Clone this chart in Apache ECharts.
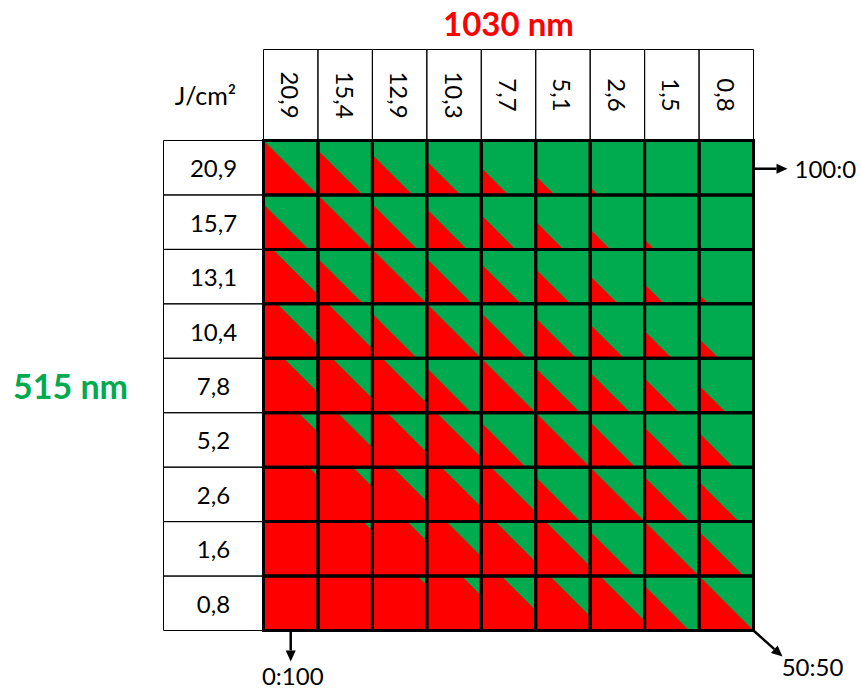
<!DOCTYPE html>
<html><head><meta charset="utf-8">
<script src="https://cdn.jsdelivr.net/npm/echarts@6/dist/echarts.min.js"></script>
<style>html,body{margin:0;padding:0;background:#fff}#c{width:861px;height:690px}</style>
</head><body><div id="c"></div>
<script>
// 1030 nm fluence (columns, J/cm²)
const fluence1030 = ['20,9','15,4','12,9','10,3','7,7','5,1','2,6','1,5','0,8'];
// 515 nm fluence (rows, J/cm²)
const fluence515 = ['20,9','15,7','13,1','10,4','7,8','5,2','2,6','1,6','0,8'];
// green (515 nm) share in % read for each cell: one array per 515 nm row, columns follow fluence1030
const share_20_9 = [50, 59, 63, 69, 75, 82.5, 92.5, 96.5, 100];
const share_15_7 = [58.5, 50, 58.5, 63, 68.5, 74.5, 81.5, 91, 96];
const share_13_1 = [41.5, 58.5, 50, 58.5, 63.5, 68, 74.5, 82, 91.5];
const share_10_4 = [37.5, 41, 59, 50, 58.5, 63, 69, 75, 82];
const share_7_8  = [31.5, 37, 41, 59, 50, 59, 63, 68.5, 75];
const share_5_2  = [18, 32, 36.5, 41, 59, 50, 58.5, 63.5, 68.5];
const share_2_6  = [8.5, 18, 31.5, 36.5, 41, 59, 50, 59, 63.5];
const share_1_6  = [4, 8.5, 18, 32, 37, 41, 59, 50, 59];
const share_0_8  = [0, 3, 8.5, 18, 31.5, 37, 41, 59, 50];
const unitLabel = 'J/cm²';
const title1030 = '1030 nm';
const title515 = '515 nm';
const ratioTop = '100:0', ratioBottom = '0:100', ratioCorner = '50:50';

const shareRows = [share_20_9, share_15_7, share_13_1, share_10_4, share_7_8, share_5_2, share_2_6, share_1_6, share_0_8];
const cellData = [];
shareRows.forEach((row, r) => row.forEach((v, c) => cellData.push([c, r, v])));
const headerData = [];
fluence1030.forEach((_, i) => headerData.push([i, 0, 0]));
fluence515.forEach((_, i) => headerData.push([0, i, 1]));

const GREEN = '#00AA4F', RED = '#FF0000';
const FONT = 'Lato';
const HEADER_H = 91, ROWHEAD_W = 100;

function arrow(x1, y1, x2, y2) {
  const a = Math.atan2(y2 - y1, x2 - x1), L = 11, W = 5;
  const bx = x2 - L * Math.cos(a), by = y2 - L * Math.sin(a);
  const px = -Math.sin(a) * W, py = Math.cos(a) * W;
  return [
    {type: 'line', shape: {x1: x1, y1: y1, x2: bx, y2: by}, style: {stroke: '#000', lineWidth: 2.5}},
    {type: 'polygon', shape: {points: [[x2, y2], [bx + px, by + py], [bx - px, by - py]]}, style: {fill: '#000'}}
  ];
}

const chart = echarts.init(document.getElementById('c'), null, {renderer: 'svg'});
chart.setOption({
  animation: false,
  backgroundColor: '#fff',
  grid: {left: 263.5, top: 140.5, width: 490, height: 490},
  xAxis: {
    type: 'category', position: 'top', data: fluence1030,
    axisLine: {show: false}, axisTick: {show: false}, splitLine: {show: false},
    axisLabel: {rotate: 90, align: 'center', verticalAlign: 'middle', margin: HEADER_H / 2,
      fontSize: 24, fontFamily: FONT, color: '#000', interval: 0},
    name: title1030, nameLocation: 'middle', nameGap: 118,
    nameTextStyle: {color: RED, fontWeight: 'bold', fontSize: 33, fontFamily: FONT, verticalAlign: 'middle', align: 'center'}
  },
  yAxis: {
    type: 'category', inverse: true, data: fluence515,
    axisLine: {show: false}, axisTick: {show: false}, splitLine: {show: false},
    axisLabel: {align: 'center', verticalAlign: 'middle', margin: ROWHEAD_W / 2,
      fontSize: 24, fontFamily: FONT, color: '#000', interval: 0},
    name: title515, nameLocation: 'middle', nameRotate: 0, nameGap: 193,
    nameTextStyle: {color: GREEN, fontWeight: 'bold', fontSize: 34, fontFamily: FONT, verticalAlign: 'middle', align: 'center'}
  },
  series: [
    {
      type: 'custom', name: 'headers', data: headerData, silent: true, clip: false,
      renderItem: function (params, api) {
        const cs = params.coordSys;
        const sz = api.size([1, 1]);
        const ctr = api.coord([api.value(0), api.value(1)]);
        let shape;
        if (api.value(2) === 0) {
          shape = {x: ctr[0] - sz[0] / 2, y: cs.y - HEADER_H, width: sz[0], height: HEADER_H};
        } else {
          shape = {x: cs.x - ROWHEAD_W, y: ctr[1] - sz[1] / 2, width: ROWHEAD_W, height: sz[1]};
        }
        return {type: 'rect', shape: shape, style: {fill: 'none', stroke: '#000', lineWidth: 1}};
      }
    },
    {
      type: 'custom', name: 'cells', data: cellData, silent: true,
      renderItem: function (params, api) {
        const c = api.value(0), r = api.value(1), s = api.value(2);
        const ctr = api.coord([c, r]);
        const sz = api.size([1, 1]);
        const w = sz[0], h = sz[1];
        const x0 = ctr[0] - w / 2, y0 = ctr[1] - h / 2;
        const d = s / 50 - 1;
        const children = [{type: 'rect', shape: {x: x0, y: y0, width: w, height: h}, style: {fill: GREEN}}];
        let pts;
        if (d >= 0) pts = [[x0, y0 + d * h], [x0, y0 + h], [x0 + (1 - d) * w, y0 + h]];
        else pts = [[x0, y0], [x0 - d * w, y0], [x0 + w, y0 + h * (1 + d)], [x0 + w, y0 + h], [x0, y0 + h]];
        if (d < 1) children.push({type: 'polygon', shape: {points: pts}, style: {fill: RED}});
        children.push({type: 'rect', z2: 10, shape: {x: x0, y: y0, width: w, height: h},
          style: {fill: 'none', stroke: '#000', lineWidth: 3}});
        return {type: 'group', children: children};
      }
    },
    {
      type: 'custom', name: 'notes', data: [[0, 0]], silent: true, clip: false,
      renderItem: function (params, api) {
        const cs = params.coordSys;
        const R = cs.x + cs.width, B = cs.y + cs.height;
        const first = api.coord([0, 0]);
        const tstyle = {fontSize: 24, fontFamily: FONT, fill: '#000', verticalAlign: 'middle'};
        const ch = [];
        ch.push.apply(ch, arrow(R + 1, first[1] + 1, R + 34, first[1] + 1));
        ch.push({type: 'text', style: Object.assign({}, tstyle, {text: ratioTop, x: R + 41, y: first[1] + 1, align: 'left'})});
        ch.push.apply(ch, arrow(first[0], B + 1, first[0], B + 31));
        ch.push({type: 'text', style: Object.assign({}, tstyle, {text: ratioBottom, x: first[0] + 2, y: B + 45, align: 'center'})});
        ch.push.apply(ch, arrow(R, B, R + 29, B + 26));
        ch.push({type: 'text', style: Object.assign({}, tstyle, {text: ratioCorner, x: R + 59, y: B + 36, align: 'center'})});
        ch.push({type: 'text', style: {text: unitLabel, x: cs.x - 58, y: cs.y - HEADER_H / 2, align: 'center', verticalAlign: 'middle',
          fontSize: 25, fontFamily: FONT, fill: '#000'}});
        return {type: 'group', children: ch};
      }
    }
  ]
});
</script>
</body></html>
